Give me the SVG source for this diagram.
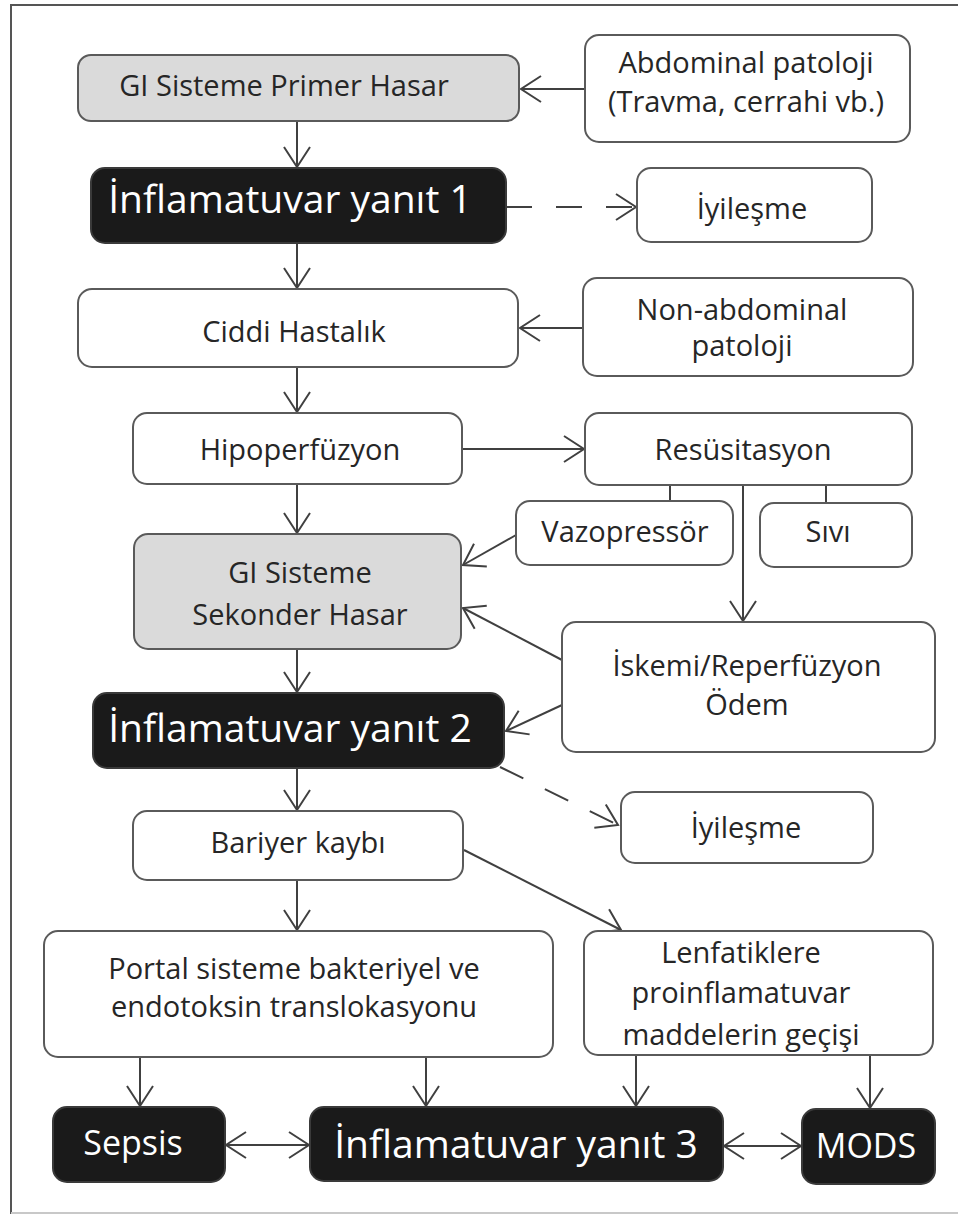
<svg xmlns="http://www.w3.org/2000/svg" width="958" height="1214" viewBox="0 0 958 1214">
<style>
.box{fill:#ffffff;stroke:#5a5a5a;stroke-width:2}
.gray{fill:#dadada;stroke:#5a5a5a;stroke-width:2}
.blk{fill:#1a1a1a;stroke:#3a3a3a;stroke-width:2}
.t{font-family:"Open Sans","Noto Sans",sans-serif;font-size:29px;fill:#262626;text-anchor:middle}
.h{font-family:"Open Sans","Noto Sans",sans-serif;font-size:39px;fill:#ffffff;text-anchor:middle}
.hs{font-family:"Open Sans","Noto Sans",sans-serif;font-size:34px;fill:#ffffff;text-anchor:middle}
.c{fill:none;stroke:#404040;stroke-width:2}
.a{marker-end:url(#arr)}
.d{stroke-dasharray:26 24}
.b{marker-start:url(#arr);marker-end:url(#arr)}
</style>
<defs>
<marker id="arr" markerUnits="userSpaceOnUse" markerWidth="40" markerHeight="40" viewBox="-30 -20 40 40" refX="0" refY="0" orient="auto-start-reverse">
<path d="M-20,-13 L0,0 L-20,13" fill="none" stroke="#404040" stroke-width="2"/>
</marker>
</defs>
<rect width="958" height="1214" fill="#ffffff"/>
<path d="M11,1214 V5 H958" fill="none" stroke="#555555" stroke-width="2"/>
<path d="M11,1213 H958" fill="none" stroke="#c8c8c8" stroke-width="2"/>

<g id="connectors">
<path class="c a" d="M585,89 H521"/>
<path class="c a" d="M297,121 V167"/>
<path class="c a d" d="M506,207 H636"/>
<path class="c a" d="M297,243 V288"/>
<path class="c a" d="M583,328 H520"/>
<path class="c a" d="M297,367 V412"/>
<path class="c a" d="M462,449 H584"/>
<path class="c a" d="M297,484 V533"/>
<path class="c" d="M670,485 V501"/>
<path class="c" d="M826,485 V503"/>
<path class="c a" d="M743,485 V621"/>
<path class="c a" d="M516,535 L463,565"/>
<path class="c a" d="M562,660 L463,608"/>
<path class="c a" d="M562,705 L506,731"/>
<path class="c a" d="M297,649 V692"/>
<path class="c a d" d="M500,767 L618,825"/>
<path class="c a" d="M297,768 V810"/>
<path class="c a" d="M297,880 V930"/>
<path class="c a" d="M464,850 L621,930"/>
<path class="c a" d="M140,1057 V1106"/>
<path class="c a" d="M426,1057 V1106"/>
<path class="c a" d="M636,1055 V1106"/>
<path class="c a" d="M870,1055 V1108"/>
<path class="c b" d="M226,1145 H309"/>
<path class="c b" d="M724,1146 H801"/>
</g>

<g id="n1"><rect class="gray" x="78" y="55" width="441" height="66" rx="13"/><text class="t" x="284" y="96">GI Sisteme Primer Hasar</text></g>
<g id="n2"><rect class="box" x="585" y="35" width="325" height="107" rx="14"/><text class="t" x="746" y="73">Abdominal patoloji</text><text class="t" x="746" y="112">(Travma, cerrahi vb.)</text></g>
<g id="n3"><rect class="blk" x="91" y="168" width="415" height="75" rx="14"/><text class="h" x="290" y="213">İnflamatuvar yanıt 1</text></g>
<g id="n4"><rect class="box" x="637" y="168" width="235" height="74" rx="14"/><text class="t" x="752" y="219">İyileşme</text></g>
<g id="n5"><rect class="box" x="78" y="289" width="440" height="78" rx="14"/><text class="t" x="294" y="342">Ciddi Hastalık</text></g>
<g id="n6"><rect class="box" x="583" y="278" width="330" height="98" rx="14"/><text class="t" x="742" y="320">Non-abdominal</text><text class="t" x="742" y="356">patoloji</text></g>
<g id="n7"><rect class="box" x="133" y="413" width="329" height="71" rx="14"/><text class="t" x="300" y="460">Hipoperfüzyon</text></g>
<g id="n8"><rect class="box" x="585" y="413" width="327" height="72" rx="14"/><text class="t" x="743" y="460">Resüsitasyon</text></g>
<g id="n9"><rect class="box" x="516" y="501" width="217" height="64" rx="14"/><text class="t" x="625" y="542">Vazopressör</text></g>
<g id="n10"><rect class="box" x="760" y="503" width="152" height="64" rx="14"/><text class="t" x="828" y="542">Sıvı</text></g>
<g id="n11"><rect class="gray" x="134" y="534" width="327" height="115" rx="14"/><text class="t" x="300" y="583">GI Sisteme</text><text class="t" x="300" y="625">Sekonder Hasar</text></g>
<g id="n12"><rect class="box" x="562" y="622" width="373" height="130" rx="14"/><text class="t" x="747" y="676">İskemi/Reperfüzyon</text><text class="t" x="747" y="715">Ödem</text></g>
<g id="n13"><rect class="blk" x="93" y="693" width="411" height="75" rx="14"/><text class="h" x="290" y="742">İnflamatuvar yanıt 2</text></g>
<g id="n14"><rect class="box" x="621" y="792" width="252" height="71" rx="14"/><text class="t" x="746" y="838">İyileşme</text></g>
<g id="n15"><rect class="box" x="133" y="811" width="330" height="69" rx="14"/><text class="t" x="298" y="853">Bariyer kaybı</text></g>
<g id="n16"><rect class="box" x="44" y="931" width="509" height="126" rx="14"/><text class="t" x="294" y="979">Portal sisteme bakteriyel ve</text><text class="t" x="294" y="1017">endotoksin translokasyonu</text></g>
<g id="n17"><rect class="box" x="584" y="931" width="349" height="124" rx="14"/><text class="t" x="741" y="963">Lenfatiklere</text><text class="t" x="741" y="1003">proinflamatuvar</text><text class="t" x="741" y="1045">maddelerin geçişi</text></g>
<g id="n18"><rect class="blk" x="53" y="1107" width="172" height="75" rx="14"/><text class="hs" x="133" y="1155">Sepsis</text></g>
<g id="n19"><rect class="blk" x="310" y="1107" width="413" height="74" rx="14"/><text class="h" x="516" y="1158">İnflamatuvar yanıt 3</text></g>
<g id="n20"><rect class="blk" x="802" y="1109" width="133" height="75" rx="14"/><text class="hs" x="866" y="1158">MODS</text></g>
</svg>
